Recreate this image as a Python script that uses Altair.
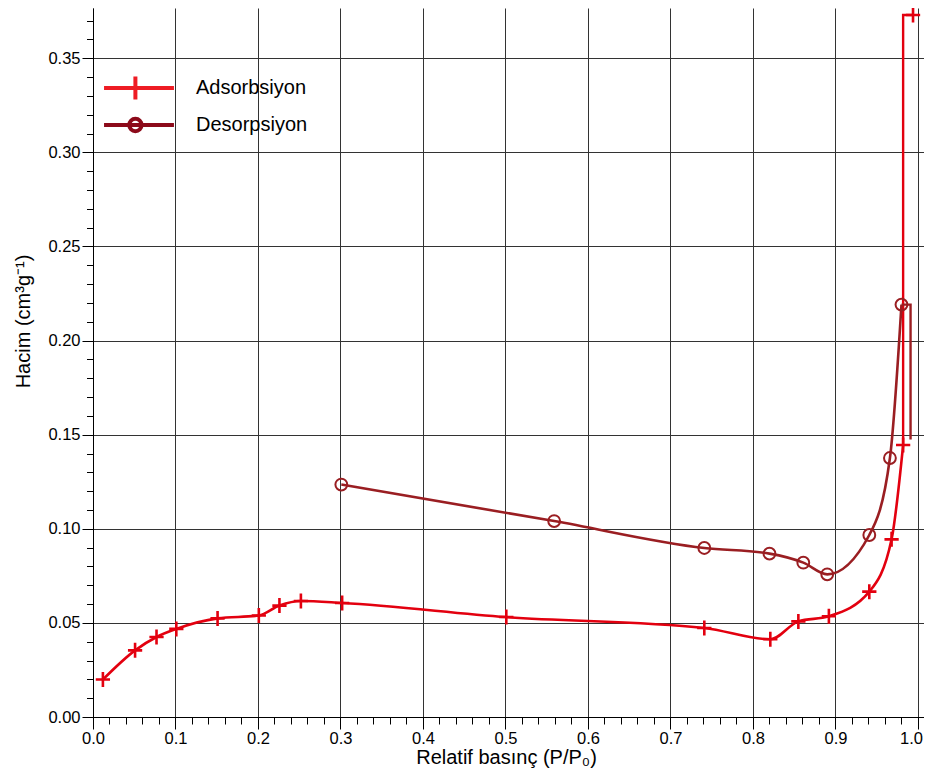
import altair as alt
import pandas as pd

# ---- data ----
ads_x = [0.012, 0.051, 0.077, 0.101, 0.151, 0.201, 0.226, 0.252, 0.302, 0.501,
         0.741, 0.821, 0.855, 0.892, 0.941, 0.968, 0.982, 0.994]
ads_y = [0.0199, 0.0354, 0.0425, 0.0468, 0.0524, 0.0539, 0.0592, 0.0616, 0.0606, 0.0531,
         0.0473, 0.0413, 0.0508, 0.0535, 0.0666, 0.0944, 0.1445, 0.3730]
des_x = [0.301, 0.559, 0.741, 0.820, 0.861, 0.890, 0.941, 0.966, 0.980]
des_y = [0.1235, 0.1041, 0.0898, 0.0868, 0.0820, 0.0758, 0.0967, 0.1376, 0.2191]
des_end_x = [0.991]
des_end_y = [0.1474]

series_names = ["Adsorbsiyon", "Desorpsiyon"]
x_ticks = [0.0, 0.1, 0.2, 0.3, 0.4, 0.5, 0.6, 0.7, 0.8, 0.9, 1.0]
y_ticks = [0.0, 0.05, 0.10, 0.15, 0.20, 0.25, 0.30, 0.35]
x_minor = [round(i * 0.02, 2) for i in range(51)]
y_minor = [round(i * 0.01, 2) for i in range(38)]

x_title = "Relatif basınç (P/P₀)"
y_title = "Hacim (cm³g⁻¹)"

FONT = "Liberation Sans"
RED = "#e3000f"
BROWN = "#9a1e22"
LEG_COLORS = ["#ee1c24", "#8c0a1a"]
PLUS = "M-0.95,0H0.95M0,-1V1"
LEG_PLUS = "M-2.33,0H2.33M-0.24,-0.77V0.77"
LEG_CIRCLE = "M-2.33,0H2.33M0.17,0A0.41,0.41 0 1,1 -0.65,0A0.41,0.41 0 1,1 0.17,0"

ads = pd.DataFrame({"x": ads_x, "y": ads_y})
ads_curve = ads.iloc[:-1]
ads_step = ads.iloc[-2:]
des = pd.DataFrame({"x": des_x, "y": des_y})
des_step = pd.DataFrame({"x": [des_x[-1]] + des_end_x, "y": [des_y[-1]] + des_end_y})
legend_df = pd.concat([ads.assign(series=series_names[0]), des.assign(series=series_names[1])])

x_scale = alt.Scale(domain=[0, 1.0073], nice=False, zero=False)
y_scale = alt.Scale(domain=[0, 0.3767], nice=False, zero=False)

major_x_axis = alt.Axis(
    orient="bottom", values=x_ticks, format=".1f", grid=True, gridColor="#333333",
    gridWidth=1, tickSize=12, tickColor="#000000", tickWidth=1, domainColor="#000000",
    labelFont=FONT, labelFontSize=16.5, labelColor="#000000", labelPadding=1,
    labelFlush=False, labelOverlap=False,
    labelOffset={"condition": {"test": "datum.value >= 1", "value": -7}, "value": 0},
    title=x_title, titleFont=FONT, titleFontSize=20, titleFontWeight="normal",
    titleColor="#000000", titleX=413, titleY=46, titleBaseline="alphabetic",
    titleAlign="center")
minor_x_axis = alt.Axis(
    orient="bottom", values=x_minor, labels=False, grid=False, tickSize=7,
    tickColor="#000000", domain=False, title=None)
major_y_axis = alt.Axis(
    orient="left", values=y_ticks, format=".2f", grid=True, gridColor="#333333",
    gridWidth=1, tickSize=11, tickColor="#000000", domainColor="#000000",
    labelFont=FONT, labelFontSize=16.5, labelColor="#000000", labelPadding=2,
    labelFlush=False, labelOverlap=False,
    title=y_title, titleFont=FONT, titleFontSize=20, titleFontWeight="normal",
    titleColor="#000000", titleX=-64, titleY=313, titleAngle=270,
    titleBaseline="alphabetic", titleAlign="center")
minor_y_axis = alt.Axis(
    orient="left", values=y_minor, labels=False, grid=False, tickSize=6.5,
    tickColor="#000000", domain=False, title=None)


def xy(xaxis=None, yaxis=None):
    return dict(x=alt.X("x:Q", scale=x_scale, axis=xaxis),
                y=alt.Y("y:Q", scale=y_scale, axis=yaxis))


curve_ads = alt.Chart(ads_curve).mark_line(
    color=RED, strokeWidth=2.6, interpolate="monotone").encode(**xy(major_x_axis, major_y_axis))
step_ads = alt.Chart(ads_step).mark_line(
    color=RED, strokeWidth=2.4, interpolate="step-before").encode(**xy())
curve_des = alt.Chart(des).mark_line(
    color=BROWN, strokeWidth=2.6, interpolate="monotone").encode(**xy())
step_des = alt.Chart(des_step).mark_line(
    color=BROWN, strokeWidth=2.4, interpolate="step-after").encode(**xy())
pts_ads = alt.Chart(ads).mark_point(
    shape=PLUS, size=225, filled=False, color=RED, strokeWidth=2.6, opacity=1).encode(**xy())
pts_des = alt.Chart(des).mark_point(
    shape="circle", size=140, filled=False, color=BROWN, strokeWidth=2, opacity=1).encode(**xy())

leg = alt.Legend(orient="none", legendX=29, legendY=63, title=None, padding=0,
                 labelFont=FONT, labelFontSize=20, labelColor="#000000", labelOffset=40,
                 symbolSize=900, symbolStrokeWidth=4, rowPadding=0, symbolOpacity=1)
carrier = alt.Chart(legend_df).mark_point(filled=False, opacity=1).encode(
    **xy(minor_x_axis, minor_y_axis),
    color=alt.Color("series:N", scale=alt.Scale(domain=series_names, range=LEG_COLORS), legend=leg),
    shape=alt.Shape("series:N", scale=alt.Scale(domain=series_names, range=[LEG_PLUS, LEG_CIRCLE]), legend=leg),
).transform_filter("false")

chart = alt.layer(
    curve_ads, step_ads, curve_des, step_des, pts_ads, pts_des, carrier
).resolve_axis(x="independent", y="independent").properties(
    width=831, height=709,
    autosize=alt.AutoSizeParams(type="none"),
    padding={"left": 85, "top": 0, "right": 0, "bottom": 51},
    background="white",
).configure_view(strokeWidth=0)

chart.save("out.html", embed_options={"renderer": "svg", "actions": False})
